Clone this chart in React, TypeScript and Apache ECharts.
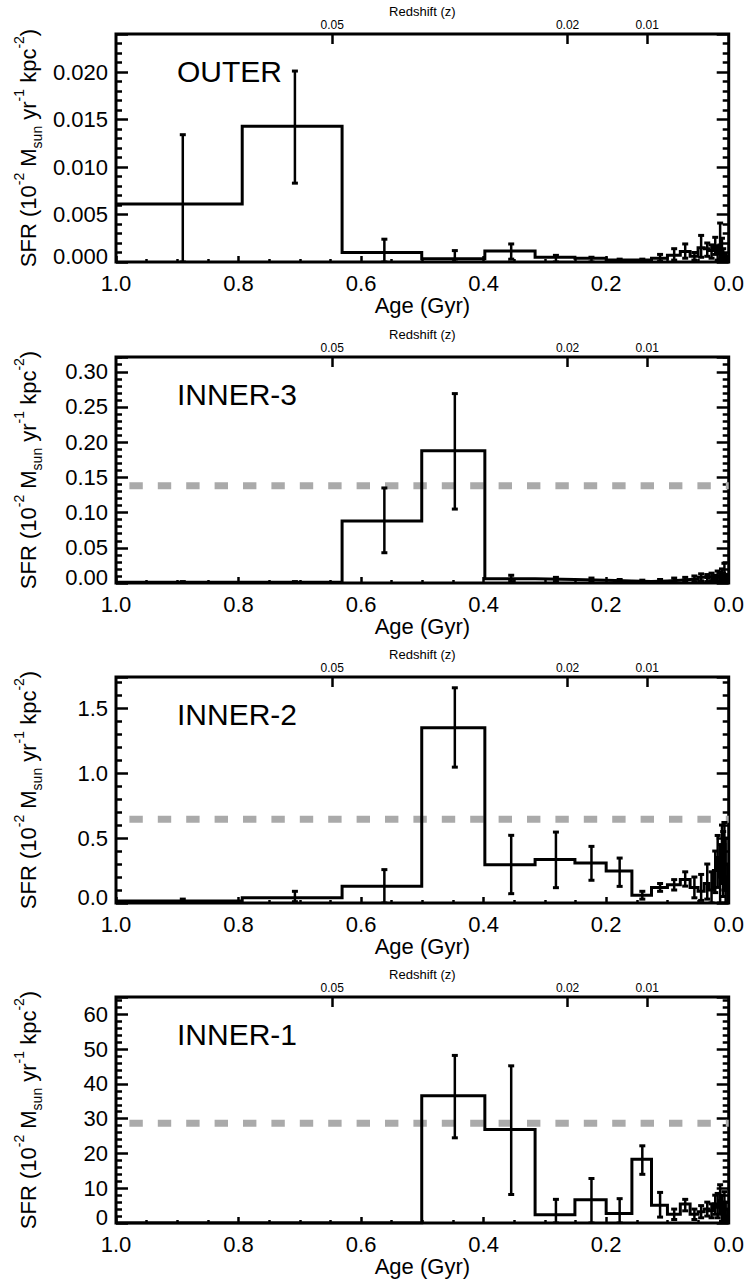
import React, { useEffect, useRef } from "react";
import * as echarts from "echarts";

// ---------- data ----------
const binEdges = [1.0, 0.794, 0.631, 0.501, 0.398, 0.316, 0.251, 0.2, 0.158, 0.126, 0.1, 0.079, 0.063, 0.05, 0.04, 0.032, 0.025, 0.02, 0.016, 0.013, 0.01, 0.008, 0.006, 0.004, 0.0];
const binCenters = [0.891, 0.708, 0.562, 0.447, 0.355, 0.282, 0.224, 0.178, 0.141, 0.112, 0.089, 0.071, 0.056, 0.045, 0.035, 0.028, 0.022, 0.018, 0.014, 0.011, 0.009, 0.007, 0.005, 0.002];

const sfrOuter = [0.0061, 0.0143, 0.001, 0.00035, 0.00116, 0.0005, 0.0004, 0.0002, 0.0002, 0.0004, 0.0007, 0.0011, 0.0006, 0.0015, 0.0014, 0.0012, 0.0017, 0.0009, 0.0018, 0.0011, 0.0006, 0.0003, 0.0002, 0.0001];
const errLoOuter = [0, 0.0083, 0, 0, 0.0003, 0, 0, 0, 0, 0.0001, 0.0002, 0.0004, 0.0002, 0.0005, 0.0006, 0.0004, 0.0008, 0.0002, 0.0003, 0.0002, 0.0001, 0, 0, 0];
const errHiOuter = [0.0134, 0.0201, 0.0024, 0.0012, 0.0019, 0.0007, 0.0005, 0.0003, 0.0003, 0.0008, 0.0014, 0.0019, 0.001, 0.0028, 0.002, 0.0018, 0.0026, 0.0016, 0.0041, 0.0025, 0.0014, 0.0008, 0.0006, 0.0004];

const sfrInner3 = [0.001, 0.001, 0.088, 0.188, 0.006, 0.005, 0.004, 0.003, 0.002, 0.003, 0.004, 0.005, 0.006, 0.008, 0.007, 0.009, 0.006, 0.01, 0.008, 0.011, 0.007, 0.012, 0.006, 0.004];
const errLoInner3 = [0, 0, 0.043, 0.105, 0.002, 0.002, 0.001, 0.001, 0, 0.001, 0.001, 0.002, 0.002, 0.003, 0.002, 0.003, 0.001, 0.003, 0.001, 0.003, 0, 0.002, 0, 0];
const errHiInner3 = [0.002, 0.002, 0.135, 0.269, 0.011, 0.008, 0.007, 0.005, 0.004, 0.005, 0.007, 0.008, 0.01, 0.013, 0.012, 0.014, 0.011, 0.017, 0.015, 0.02, 0.014, 0.028, 0.012, 0.01];

const sfrInner2 = [0.015, 0.04, 0.128, 1.349, 0.295, 0.334, 0.308, 0.246, 0.06, 0.12, 0.14, 0.18, 0.12, 0.09, 0.15, 0.1, 0.25, 0.35, 0.2, 0.4, 0.3, 0.45, 0.2, 0.1];
const errLoInner2 = [0.005, 0.01, 0, 1.046, 0.072, 0.118, 0.175, 0.128, 0.03, 0.09, 0.1, 0.13, 0.04, 0.02, 0.03, 0, 0.08, 0.12, 0, 0.15, 0.05, 0.1, 0, 0];
const errHiInner2 = [0.03, 0.09, 0.257, 1.657, 0.521, 0.546, 0.436, 0.346, 0.09, 0.15, 0.18, 0.24, 0.2, 0.22, 0.3, 0.24, 0.4, 0.52, 0.45, 0.6, 0.55, 0.62, 0.5, 0.3];

const sfrInner1 = [0, 0, 0, 36.6, 26.9, 2.4, 6.7, 2.7, 18.3, 5.1, 2.5, 5.5, 2.5, 3.2, 4.0, 3.5, 5.5, 4.5, 6.5, 4.0, 3.0, 5.0, 2.0, 1.0];
const errLoInner1 = [0, 0, 0, 24.5, 8.2, 0, 0, 0, 14.0, 1.7, 1.0, 3.5, 1.0, 1.5, 2.0, 1.5, 2.5, 1.5, 2.5, 0.5, 0, 0, 0, 0];
const errHiInner1 = [0, 0, 0, 48.2, 45.2, 6.8, 12.8, 7.0, 22.2, 8.8, 4.0, 6.8, 4.0, 5.0, 6.0, 5.5, 8.0, 8.5, 11, 8, 6, 9, 6, 4];

const panelNames = ["OUTER", "INNER-3", "INNER-2", "INNER-1"];
const grayLevels = [null, 0.138, 0.645, 28.7];
const yMaxes = [0.024, 0.321, 1.74, 65];
const yIntervals = [0.005, 0.05, 0.5, 10];
const yDecimals = [3, 2, 1, 0];

const xTickStep = 0.2;
const zTickAges = [0.647, 0.263, 0.133];
const zTickLabels = ["0.05", "0.02", "0.01"];

const sfrSets = [sfrOuter, sfrInner3, sfrInner2, sfrInner1];
const errLoSets = [errLoOuter, errLoInner3, errLoInner2, errLoInner1];
const errHiSets = [errHiOuter, errHiInner3, errHiInner2, errHiInner1];

// ---------- layout ----------
const panelTops = [34, 357, 677, 997];
const panelHeights = [228, 226, 226, 226];
const GRID_LEFT = 116;
const GRID_WIDTH = 615;
const FONT = "'Liberation Sans', Arial, Helvetica, sans-serif";

export default function App() {
  const ref = useRef<HTMLDivElement>(null);

  useEffect(() => {
    if (!ref.current) return;
    const chart = echarts.init(ref.current, null, { renderer: "svg" });

    const grids: any[] = [];
    const xAxes: any[] = [];
    const yAxes: any[] = [];
    const series: any[] = [];
    const elements: any[] = [];

    panelTops.forEach((top, i) => {
      const h = panelHeights[i];
      grids.push({
        left: GRID_LEFT,
        top,
        width: GRID_WIDTH,
        height: h,
        show: true,
        borderWidth: 3,
        borderColor: "#000",
        backgroundColor: "transparent",
      });

      // bottom age axis
      xAxes.push({
        gridIndex: i,
        type: "value",
        position: "bottom",
        min: 0,
        max: 1,
        inverse: true,
        interval: xTickStep,
        axisLine: { show: false, onZero: false },
        splitLine: { show: false },
        axisTick: { show: true, inside: true, length: 6, lineStyle: { color: "#000", width: 2.5 } },
        minorTick: { show: true, splitNumber: 4, length: 3, lineStyle: { color: "#000", width: 2.5 } },
        axisLabel: {
          color: "#000",
          fontSize: 22,
          fontFamily: FONT,
          margin: 10,
          formatter: (v: number) => v.toFixed(1),
        },
        name: "Age (Gyr)",
        nameLocation: "middle",
        nameGap: 32,
        nameTextStyle: { color: "#000", fontSize: 22, fontFamily: FONT },
      });
      // top redshift axis
      xAxes.push({
        gridIndex: i,
        type: "value",
        position: "top",
        min: 0,
        max: 1,
        inverse: true,
        axisLine: { show: false, onZero: false },
        splitLine: { show: false },
        axisTick: {
          show: true,
          inside: true,
          length: 10,
          customValues: zTickAges,
          lineStyle: { color: "#000", width: 2.5 },
        },
        minorTick: { show: false },
        axisLabel: {
          show: true,
          customValues: zTickAges,
          color: "#000",
          fontSize: 12,
          fontFamily: FONT,
          margin: 3,
          formatter: (v: number) => {
            let best = 0;
            zTickAges.forEach((a, k) => {
              if (Math.abs(a - v) < Math.abs(zTickAges[best] - v)) best = k;
            });
            return zTickLabels[best];
          },
        },
        name: "Redshift (z)",
        nameLocation: "middle",
        nameGap: 14,
        nameTextStyle: { color: "#000", fontSize: 13, fontFamily: FONT },
      });

      const interval = yIntervals[i];
      const dec = yDecimals[i];
      const yCommon = {
        gridIndex: i,
        type: "value",
        min: 0,
        max: yMaxes[i],
        interval,
        splitLine: { show: false },
        axisLine: { show: false, onZero: false },
        axisTick: { show: true, inside: true, length: 12, lineStyle: { color: "#000", width: 2.5 } },
        minorTick: { show: true, splitNumber: 5, length: 6, lineStyle: { color: "#000", width: 2.5 } },
      };
      yAxes.push({
        ...yCommon,
        position: "left",
        axisLabel: {
          color: "#000",
          fontSize: 22,
          fontFamily: FONT,
          margin: 8,
          formatter: (v: number) => {
            const r = v / interval;
            if (Math.abs(r - Math.round(r)) > 1e-6) return "";
            if (Math.abs(v) < 1e-12) return `{low|${v.toFixed(dec)}}`;
            return v.toFixed(dec);
          },
          rich: {
            low: { fontSize: 22, fontFamily: FONT, color: "#000", padding: [0, 0, 11, 0] },
          },
        },
      });
      yAxes.push({
        ...yCommon,
        position: "right",
        axisLabel: { show: false },
      });

      const g = grayLevels[i];
      if (g !== null) {
        series.push({
          type: "line",
          xAxisIndex: 2 * i,
          yAxisIndex: 2 * i,
          data: [
            [1, g],
            [0, g],
          ],
          symbol: "none",
          silent: true,
          z: 1,
          lineStyle: { color: "#aaaaaa", width: 7, type: [13.4, 15], dashOffset: 15.4, cap: "butt" },
        });
      }

      const vals = sfrSets[i];
      series.push({
        type: "line",
        xAxisIndex: 2 * i,
        yAxisIndex: 2 * i,
        step: "end",
        symbol: "none",
        silent: true,
        z: 3,
        clip: true,
        data: binEdges.map((e, k) => [e, vals[Math.min(k, vals.length - 1)]]),
        lineStyle: { color: "#000", width: 3, join: "miter" },
      });

      const lo = errLoSets[i];
      const hi = errHiSets[i];
      const errData = binCenters
        .map((c, k) => [c, lo[k], hi[k]])
        .filter((d) => d[2] > d[1]);
      series.push({
        type: "custom",
        xAxisIndex: 2 * i,
        yAxisIndex: 2 * i,
        coordinateSystem: "cartesian2d",
        clip: true,
        silent: true,
        z: 4,
        encode: { x: 0, y: [1, 2] },
        data: errData,
        renderItem: (params: any, api: any) => {
          const x = api.value(0);
          const pLo = api.coord([x, api.value(1)]);
          const pHi = api.coord([x, api.value(2)]);
          const cap = 3;
          return {
            type: "group",
            children: [
              {
                type: "line",
                shape: { x1: pLo[0], y1: pLo[1], x2: pHi[0], y2: pHi[1] },
                style: { stroke: "#000", lineWidth: 2.5 },
              },
              {
                type: "line",
                shape: { x1: pHi[0] - cap, y1: pHi[1], x2: pHi[0] + cap, y2: pHi[1] },
                style: { stroke: "#000", lineWidth: 3 },
              },
              {
                type: "line",
                shape: { x1: pLo[0] - cap, y1: pLo[1], x2: pLo[0] + cap, y2: pLo[1] },
                style: { stroke: "#000", lineWidth: 3 },
              },
            ],
          };
        },
      });

      // panel label
      elements.push({
        type: "text",
        x: 177,
        y: top + 37,
        z: 10,
        style: {
          text: panelNames[i],
          fill: "#000",
          font: `30px ${FONT}`,
          align: "left",
          verticalAlign: "middle",
          textAlign: "left",
          textVerticalAlign: "middle",
        },
      });
      // y-axis title
      elements.push({
        type: "text",
        x: 28,
        y: top + h / 2,
        rotation: Math.PI / 2,
        z: 10,
        style: {
          text: "{a|SFR (10}{sup|-2}{a| M}{sub|sun}{a| yr}{sup|-1}{a| kpc}{sup|-2}{a|)}",
          align: "center",
          verticalAlign: "middle",
          textAlign: "center",
          textVerticalAlign: "middle",
          fill: "#000",
          rich: {
            a: { fontSize: 22, fontFamily: FONT, fill: "#000", color: "#000", lineHeight: 32 },
            sup: { fontSize: 14, fontFamily: FONT, fill: "#000", color: "#000", verticalAlign: "top", lineHeight: 14 },
            sub: { fontSize: 14, fontFamily: FONT, fill: "#000", color: "#000", verticalAlign: "bottom", lineHeight: 14 },
          },
        },
      });
    });

    chart.setOption({
      animation: false,
      backgroundColor: "#fff",
      textStyle: { fontFamily: FONT },
      grid: grids,
      xAxis: xAxes,
      yAxis: yAxes,
      series,
      graphic: { elements },
    });

    return () => {
      chart.dispose();
    };
  }, []);

  return (
    <div
      ref={ref}
      style={{ position: "absolute", left: 0, top: 0, width: 747, height: 1286, background: "#fff" }}
    />
  );
}
